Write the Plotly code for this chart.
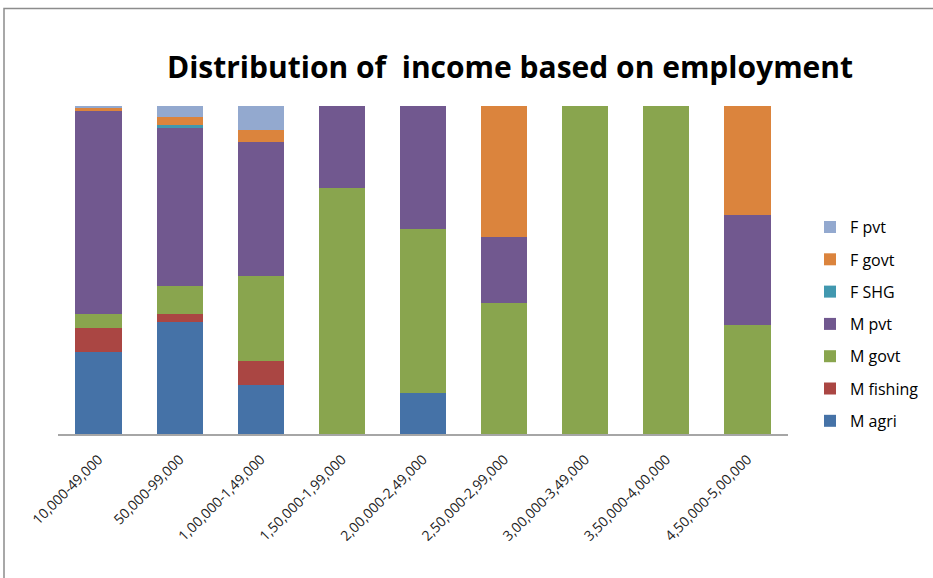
import plotly.graph_objects as go

# Income bands (x-axis categories)
income_bands = [
    "10,000-49,000", "50,000-99,000", "1,00,000-1,49,000", "1,50,000-1,99,000",
    "2,00,000-2,49,000", "2,50,000-2,99,000", "3,00,000-3,49,000",
    "3,50,000-4,00,000", "4,50,000-5,00,000",
]

# Number of earners per employment type in each band
m_agri    = [48, 41, 4, 0, 1, 0, 0, 0, 0]
m_fishing = [14, 3, 2, 0, 0, 0, 0, 0, 0]
m_govt    = [8, 10, 7, 3, 4, 2, 1, 1, 1]
m_pvt     = [119, 58, 11, 1, 3, 1, 0, 0, 1]
f_shg     = [0, 1, 0, 0, 0, 0, 0, 0, 0]
f_govt    = [2, 3, 1, 0, 0, 2, 0, 0, 1]
f_pvt     = [1, 4, 2, 0, 0, 0, 0, 0, 0]

series = [
    ("M agri", m_agri, "#4572A7"),
    ("M fishing", m_fishing, "#AA4643"),
    ("M govt", m_govt, "#89A54E"),
    ("M pvt", m_pvt, "#71588F"),
    ("F SHG", f_shg, "#4198AF"),
    ("F govt", f_govt, "#DB843D"),
    ("F pvt", f_pvt, "#93A9CF"),
]

fig = go.Figure()
n = len(series)
for i, (name, vals, color) in enumerate(series):
    fig.add_trace(go.Bar(
        name=name, x=income_bands, y=vals,
        marker=dict(color=color, line=dict(width=0)),
        legendgroup=name,
        legendrank=n - i,  # top of the stack listed first
    ))

W, H = 933, 578
left, right, top, bottom = 58, 788, 105.7, 434.3
pw, ph = right - left, bottom - top

fig.update_layout(
    width=W, height=H,
    barmode="stack", barnorm="percent", bargap=0.43,
    paper_bgcolor="white", plot_bgcolor="white",
    margin=dict(l=left, r=W - right, t=top, b=H - bottom, autoexpand=False),
    font=dict(family="Open Sans, Arial, sans-serif", color="#000000"),
    title=dict(
        text="<b>Distribution of  income based on employment</b>",
        x=510 / W, xanchor="center", y=1 - 67 / H, yanchor="middle",
        font=dict(size=30, color="#000000"),
    ),
    showlegend=True,
    legend=dict(
        traceorder="grouped",
        x=(810 - left) / pw, xanchor="left",
        y=1 - (210 - top) / ph, yanchor="top",
        font=dict(size=16, color="#000000"),
        tracegroupgap=8.5, itemwidth=30,
        bgcolor="rgba(0,0,0,0)",
    ),
    xaxis=dict(
        showline=True, linecolor="#a6a6a6", linewidth=1.5,
        ticks="", tickangle=-45, tickfont=dict(size=14, color="#222222"),
        ticklabelstandoff=10,
        showgrid=False, zeroline=False,
    ),
    yaxis=dict(
        range=[0, 100], showticklabels=False, showgrid=False,
        zeroline=False, showline=False, ticks="",
    ),
    shapes=[dict(
        type="rect", xref="paper", yref="paper",
        x0=(4 - left) / pw, x1=(W + 10 - left) / pw,
        y0=-(H + 10 - bottom) / ph, y1=1 + (top - 8) / ph,
        line=dict(color="#8c8c8c", width=1.5), fillcolor="rgba(0,0,0,0)",
        layer="below",
    )],
)

fig.write_html("out.html")
